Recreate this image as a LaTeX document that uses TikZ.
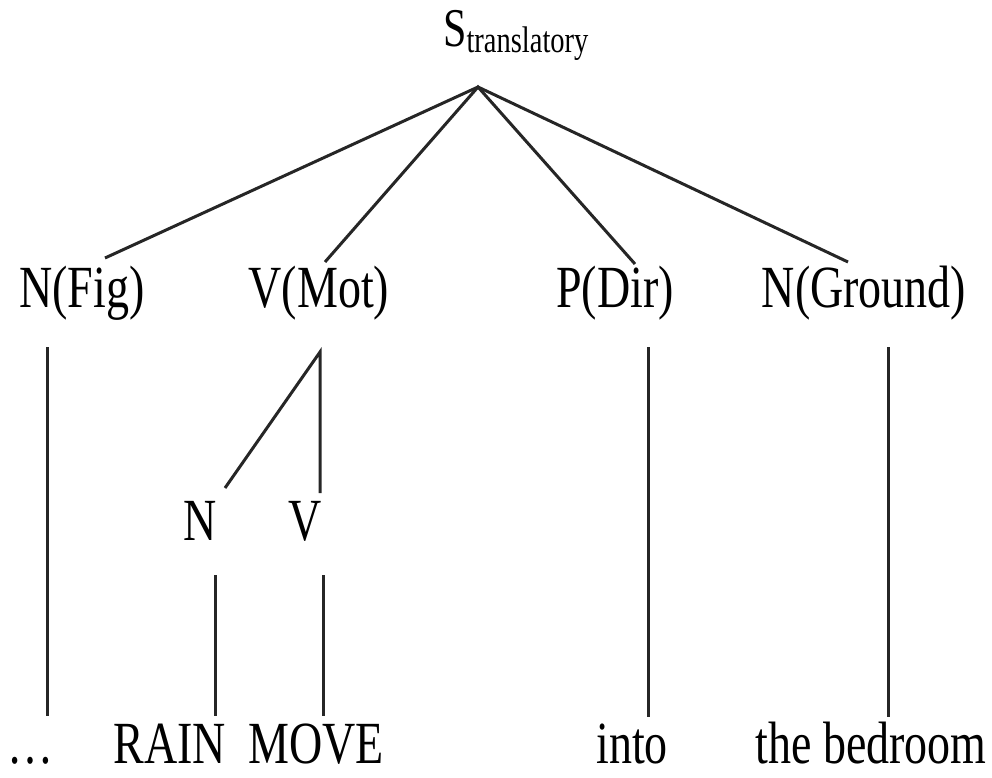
\documentclass[tikz,border=0pt]{standalone}
\usepackage{fontspec}
\setmainfont{Liberation Serif}
\usepackage{graphicx}
\newcommand{\talltxt}[1]{\scalebox{1}[1.3]{#1}}
\begin{document}
\begin{tikzpicture}[x=1pt,y=-1pt,
  lab/.style={inner sep=0pt, anchor=base, font=\fontsize{46}{50}\selectfont},
  edge/.style={line width=3pt, draw=black!85}]
\useasboundingbox (0,0) rectangle (992,778);
% nodes
\node[inner sep=0pt, anchor=base west] (S) at (443,47)
  {\talltxt{\fontsize{42}{46}\selectfont S}\raisebox{-6pt}{\talltxt{\fontsize{28.5}{30}\selectfont translatory}}};
\node[lab] (nfig) at (82,307) {\talltxt{N(Fig)}};
\node[lab] (vmot) at (319,307) {\talltxt{V(Mot)}};
\node[lab] (pdir) at (615,307) {\talltxt{P(Dir)}};
\node[lab] (nground) at (864,307) {\talltxt{N(Ground)}};
\node[lab] (n) at (200,540) {\talltxt{N}};
\node[lab] (v) at (305,540) {\talltxt{V}};
\node[lab] (dots) at (31,763) {\talltxt{\dots}};
\node[lab] (rain) at (170,763) {\talltxt{RAIN}};
\node[lab] (move) at (316,763) {\talltxt{MOVE}};
\node[lab] (into) at (632,763) {\talltxt{into}};
\node[lab] (bed) at (871,763) {\talltxt{the bedroom}};
% connector end points
\coordinate (Sapex) at (478,87);
\coordinate (nfigT) at (105,258);
\coordinate (vmotT) at (325,262);
\coordinate (pdirT) at (635,264);
\coordinate (ngroundT) at (848,262);
\coordinate (nfigB) at (47,347);
\coordinate (vmotB) at (320,352);
\coordinate (pdirB) at (648,347);
\coordinate (ngroundB) at (888,347);
\coordinate (nT) at (225,488);
\coordinate (vT) at (320,493);
\coordinate (nB) at (215,575);
\coordinate (vB) at (323,575);
\coordinate (dotsT) at (47,716);
\coordinate (rainT) at (215,716);
\coordinate (moveT) at (323,716);
\coordinate (intoT) at (648,717);
\coordinate (bedT) at (888,717);
% connectors
\draw[edge] (nfigT) -- (Sapex) -- (ngroundT);
\draw[edge] (vmotT) -- (Sapex) -- (pdirT);
\draw[edge] (nfigB) -- (dotsT);
\draw[edge] (nT) -- (vmotB) -- (vT);
\draw[edge] (nB) -- (rainT);
\draw[edge] (vB) -- (moveT);
\draw[edge] (pdirB) -- (intoT);
\draw[edge] (ngroundB) -- (bedT);
\end{tikzpicture}
\end{document}
